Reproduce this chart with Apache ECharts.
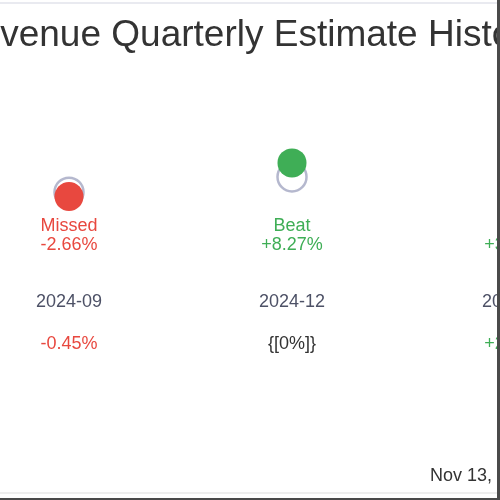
<!DOCTYPE html>
<html>
<head>
<meta charset="utf-8">
<script src="https://cdn.jsdelivr.net/npm/echarts@6.0.0/dist/echarts.min.js"></script>
<style>
  html, body { margin: 0; padding: 0; width: 500px; height: 500px; overflow: hidden; background: #fff; }
  #frame { position: absolute; left: 0; top: 0; width: 497px; height: 498px; overflow: hidden;
           border-right: 3px solid #4a4a4a; border-bottom: 2px solid #4a4a4a; }
  #topline { position: absolute; left: 0; top: 2px; width: 500px; height: 2px; background: #e9eaf0; z-index: 2; }
  #botline { position: absolute; left: 0; top: 492px; width: 500px; height: 2px; background: #eeeeee; z-index: 2; }
  #main { position: absolute; left: -252px; top: 0; width: 1000px; height: 500px; }
</style>
</head>
<body>
<div id="frame">
  <div id="topline"></div>
  <div id="botline"></div>
  <div id="main"></div>
</div>
<script>
var quarters = ['2024-09', '2024-12', '2025-03'];
var estimates = [1.82, 2.00, 2.10];
var actuals = [1.77, 2.165, 2.17];
var surprise = ['-2.66%', '+8.27%', '+3.41%'];
var outcome = ['Missed', 'Beat', 'Beat'];
var growth = ['-0.45%', '{[0%]}', '+2.13%'];
var growthSign = [-1, 0, 1];
var stamp = 'Nov 13, 2025';

var red = '#e8483f';
var green = '#3fae56';

var myChart = echarts.init(document.getElementById('main'));
var option = {
  animation: false,
  textStyle: { fontFamily: 'Liberation Sans' },
  title: [
    { text: 'Revenue Quarterly Estimate History', left: 'center', top: 12,
      textStyle: { fontSize: 37, fontWeight: 'normal', color: '#333', fontFamily: 'Liberation Sans' } },
    { text: stamp, left: 677, top: 462,
      textStyle: { fontSize: 18, fontWeight: 'normal', color: '#333', fontFamily: 'Liberation Sans' } }
  ],
  grid: { left: 209.5, right: 121.5, top: 120, bottom: 290 },
  xAxis: [
    {
      type: 'category', data: quarters, position: 'bottom', offset: 0,
      axisLine: { show: false }, axisTick: { show: false },
      axisLabel: {
        margin: 7, fontSize: 18, lineHeight: 19,
        formatter: function (v, i) { return outcome[i] + '\n' + surprise[i]; },
        color: function (v, i) { return outcome[i] === 'Missed' ? red : green; }
      }
    },
    {
      type: 'category', data: quarters, position: 'bottom', offset: 83,
      axisLine: { show: false }, axisTick: { show: false },
      axisLabel: { margin: 0, fontSize: 18, color: '#4d5166' }
    },
    {
      type: 'category', data: quarters, position: 'bottom', offset: 125,
      axisLine: { show: false }, axisTick: { show: false },
      axisLabel: {
        margin: 0, fontSize: 18,
        formatter: function (v, i) { return growth[i]; },
        color: function (v, i) { return growthSign[i] < 0 ? red : (growthSign[i] > 0 ? green : '#333'); }
      }
    }
  ],
  yAxis: { type: 'value', min: 1.61, max: 2.67, show: false, splitLine: { show: false } },
  series: [
    {
      type: 'scatter', xAxisIndex: 0, data: estimates, symbolSize: 29,
      itemStyle: { color: '#fff', borderColor: '#a3a6c2', borderWidth: 2.5 }, z: 2
    },
    {
      type: 'scatter', xAxisIndex: 0, data: actuals, symbolSize: 29,
      itemStyle: {
        color: function (p) { return outcome[p.dataIndex] === 'Missed' ? red : green; },
        opacity: 1
      }, z: 3
    }
  ]
};
myChart.setOption(option);
</script>
</body>
</html>
